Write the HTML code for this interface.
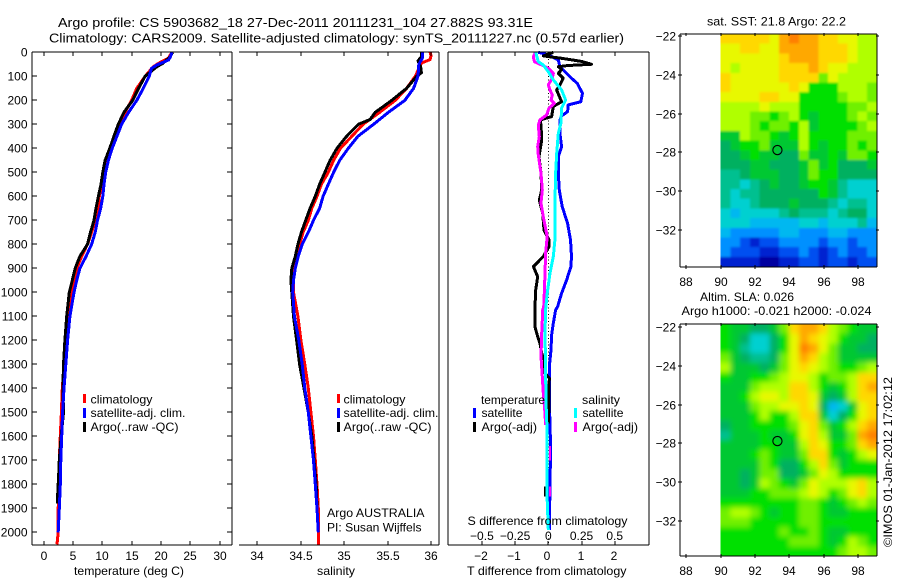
<!DOCTYPE html>
<html lang="en">
<head>
<meta charset="utf-8">
<title>Argo profile 5903682_18</title>
<style>
html,body{margin:0;padding:0;background:#fff;}
svg{display:block;font-family:"Liberation Sans",sans-serif;font-size:12px;fill:#000;}
text{stroke:none;}
</style>
</head>
<body>
<svg id="chart" xmlns="http://www.w3.org/2000/svg" width="900" height="580" viewBox="0 0 900 580">
  <defs>
    <filter id="blur-sst" filterUnits="userSpaceOnUse" x="660" y="0" width="240" height="300"><feGaussianBlur stdDeviation="1"/></filter>
    <filter id="blur-sla" filterUnits="userSpaceOnUse" x="660" y="300" width="240" height="280"><feGaussianBlur stdDeviation="2.6"/></filter>
    <clipPath id="clip-sst"><rect x="720.5" y="34" width="156.5" height="232.5"/></clipPath>
    <clipPath id="clip-sla"><rect x="720.5" y="324" width="156.5" height="232"/></clipPath>
  </defs>
  <rect x="0" y="0" width="900" height="580" fill="#fff"/>
  <g id="layer-maps"></g>
  <g id="layer-lines"></g>
  <g id="layer-axes"></g>

  <text x="58" y="27" textLength="475" lengthAdjust="spacingAndGlyphs" font-size="13">Argo profile: CS 5903682_18 27-Dec-2011 20111231_104 27.882S 93.31E</text>
  <text x="49" y="42.5" textLength="575" lengthAdjust="spacingAndGlyphs" font-size="13">Climatology: CARS2009. Satellite-adjusted climatology: synTS_20111227.nc (0.57d earlier)</text>

  <text x="74" y="575" textLength="110" lengthAdjust="spacingAndGlyphs">temperature (deg C)</text>
  <text x="317" y="575" textLength="38" lengthAdjust="spacingAndGlyphs">salinity</text>
  <text x="467" y="575" textLength="159.5" lengthAdjust="spacingAndGlyphs">T difference from climatology</text>
  <text x="467.5" y="525" textLength="160" lengthAdjust="spacingAndGlyphs">S difference from climatology</text>

  <g>
    <rect x="83" y="394" width="3" height="9" fill="#f00"/>
    <text x="90.5" y="403.5" textLength="62" lengthAdjust="spacingAndGlyphs">climatology</text>
    <rect x="83" y="408" width="3" height="10" fill="#00f"/>
    <text x="90.5" y="417" textLength="95" lengthAdjust="spacingAndGlyphs">satellite-adj. clim.</text>
    <rect x="83" y="422" width="3" height="10" fill="#000"/>
    <text x="90.5" y="431" textLength="88" lengthAdjust="spacingAndGlyphs">Argo(..raw -QC)</text>
  </g>
  <g>
    <rect x="337" y="394" width="3" height="9" fill="#f00"/>
    <text x="343.5" y="403.5" textLength="62" lengthAdjust="spacingAndGlyphs">climatology</text>
    <rect x="337" y="408" width="3" height="10" fill="#00f"/>
    <text x="343.5" y="417" textLength="95" lengthAdjust="spacingAndGlyphs">satellite-adj. clim.</text>
    <rect x="337" y="422" width="3" height="10" fill="#000"/>
    <text x="343.5" y="431" textLength="88" lengthAdjust="spacingAndGlyphs">Argo(..raw -QC)</text>
  </g>
  <text x="327" y="517" textLength="97.5" lengthAdjust="spacingAndGlyphs">Argo AUSTRALIA</text>
  <text x="327" y="531.5" textLength="94.5" lengthAdjust="spacingAndGlyphs">PI: Susan Wijffels</text>

  <g>
    <text x="481" y="404" textLength="64" lengthAdjust="spacingAndGlyphs">temperature</text>
    <rect x="473" y="408" width="3" height="10" fill="#00f"/>
    <text x="481.5" y="417" textLength="41" lengthAdjust="spacingAndGlyphs">satellite</text>
    <rect x="473" y="422" width="3" height="10" fill="#000"/>
    <text x="481.5" y="431" textLength="55.5" lengthAdjust="spacingAndGlyphs">Argo(-adj)</text>
    <text x="582" y="404" textLength="38" lengthAdjust="spacingAndGlyphs">salinity</text>
    <rect x="574" y="408" width="3" height="10" fill="#0ff"/>
    <text x="582.5" y="417" textLength="41" lengthAdjust="spacingAndGlyphs">satellite</text>
    <rect x="574" y="422" width="3" height="10" fill="#f0f"/>
    <text x="582.5" y="431" textLength="55.5" lengthAdjust="spacingAndGlyphs">Argo(-adj)</text>
  </g>

  <text x="707" y="25.5" textLength="139" lengthAdjust="spacingAndGlyphs">sat. SST: 21.8 Argo: 22.2</text>
  <text x="700" y="301" textLength="94" lengthAdjust="spacingAndGlyphs">Altim. SLA: 0.026</text>
  <text x="681.5" y="315" textLength="190" lengthAdjust="spacingAndGlyphs">Argo h1000: -0.021 h2000: -0.024</text>
  <text transform="translate(892,547) rotate(-90)" textLength="170" lengthAdjust="spacingAndGlyphs">©IMOS 01-Jan-2012 17:02:12</text>
</svg>

<script>
/* ---------- temperature panel data ---------- */
const climTempDepths = [0,25,40,60,100,150,200,250,300,350,400,450,500,550,600,650,700,750,800,850,900,950,1000,1100,1200,1300,1400,1500,1600,1700,1800,1900,2000,2050];
const climTemp = [21.85,21.3,20,18.7,17.3,15.9,15,13.9,13,12.2,11.3,10.65,10.3,9.9,9.5,9.35,8.8,8.2,7.5,6.5,5.65,5.2,4.8,4.2,3.8,3.5,3.2,3.05,2.87,2.7,2.65,2.5,2.5,2.3];
const argoTempDepths = [0,18,45,60,100,150,200,250,300,350,400,450,500,550,600,650,700,750,800,850,900,950,1000,1100,1200,1300,1400,1500,1600,1700,1750,1850,1880];
const argoTemp = [22,21.6,20.4,19.3,17.3,16.2,15.2,13.7,12.75,12,11.3,10.5,10.1,9.8,9.35,8.95,8.6,8,7.5,6.2,5.4,4.9,4.4,3.95,3.65,3.4,3.3,3.4,3,2.7,2.6,2.4,2.4];
const satTempDepths = [0,20,32,53,67,100,150,200,250,300,350,400,450,500,550,600,650,700,750,800,850,900,950,1000,1100,1200,1300,1400,1500,1600,1700,1800,1900,2000];
const satTemp = [21.85,21.6,21.3,19.3,18.4,18,17,15.9,14.5,13.3,12.5,11.7,11.05,10.6,10.3,10.1,9.75,9.2,8.8,8.2,7.25,6.2,5.65,5.2,4.5,4.1,3.8,3.5,3.25,3.1,2.95,2.87,2.7,2.5];

/* ---------- salinity panel data ---------- */
const climSalDepths = [0,15,30,45,100,150,200,250,300,350,400,450,500,550,600,650,700,750,800,850,900,1000,1100,1200,1300,1400,1500,1600,1700,1800,1900,2000,2050];
const climSal = [35.99,36,35.99,35.89,35.82,35.72,35.59,35.41,35.22,35.09,34.96,34.88,34.82,34.74,34.69,34.63,34.59,34.53,34.49,34.44,34.42,34.42,34.47,34.505,34.55,34.59,34.62,34.65,34.67,34.69,34.705,34.705,34.705];
const argoSalDepths = [0,20,35,60,85,100,150,200,250,280,300,350,400,450,500,550,600,650,700,750,800,850,900,950,1000,1100,1200,1300,1400,1500,1600,1700,1800,1900];
const argoSal = [35.89,35.89,35.85,35.88,35.89,35.835,35.72,35.55,35.36,35.3,35.165,35.03,34.92,34.84,34.78,34.72,34.67,34.61,34.56,34.51,34.47,34.44,34.4,34.39,34.4,34.42,34.455,34.49,34.54,34.59,34.63,34.655,34.68,34.69];
const satSalDepths = [0,25,50,100,150,200,250,300,350,400,450,500,550,600,650,700,750,800,850,900,950,1000,1100,1200,1300,1400,1500,1600,1700,1800,1900,2000];
const satSal = [35.9,35.9,35.86,35.85,35.8,35.7,35.51,35.34,35.16,35.05,34.95,34.88,34.82,34.76,34.72,34.65,34.59,34.52,34.475,34.44,34.42,34.41,34.43,34.48,34.52,34.55,34.59,34.62,34.65,34.67,34.69,34.705];

/* ---------- difference panel data ---------- */
const satDiffTDepths = [0,11,32,60,88,108,129,171,206,219,247,265,282,338,393,435,504,574,643,713,782,851,893,949,1004,1060,1074,1129,1178,1240,1310,1449,1643,1990];
const satDiffT = [-0.3,0,0.3,0.35,0.55,0.7,0.87,1.03,0.98,0.6,0.58,0.4,0.35,0.35,0.4,0.3,0.3,0.33,0.42,0.58,0.67,0.7,0.68,0.55,0.4,0.28,0.22,0.15,0.1,0.08,0.03,0.03,0.07,0.03];
const argoDiffTDepths = [0,15,25,38,50,55,60,72,88,108,136,157,206,226,268,282,303,365,435,504,574,615,671,740,782,810,851,893,935,990,1060,1143,1171,1213,1254,1282,1338,1358,1546];
const argoDiffT = [0.15,-0.15,0.4,1,1.3,0.6,0.3,0.4,0.3,0.45,0.35,0.25,0.4,0.15,0.1,-0.25,-0.22,-0.2,-0.28,-0.22,-0.2,-0.27,-0.17,-0.13,0.02,0.02,-0.15,-0.45,-0.32,-0.38,-0.4,-0.4,-0.35,-0.25,-0.2,-0.12,-0.1,0.03,0.01];
const argoDiffTTailDepths = [1810,1850];
const argoDiffTTail = [-0.1,-0.1];
const argoDiffSDepths = [0,18,39,53,67,88,108,136,157,178,199,213,233,261,282,303,351,393,428,504,574,629,699,768,838,921,1004,1060,1074,1115,1171,1268,1351,1421,1504,1553];
const argoDiffS = [-0.095,-0.113,-0.105,-0.05,0,0.038,0.03,0,0.013,0.03,0.02,0.045,0.005,-0.013,-0.063,-0.075,-0.068,-0.08,-0.075,-0.055,-0.045,-0.055,-0.033,-0.008,-0.02,-0.025,-0.03,-0.035,-0.043,-0.045,-0.05,-0.055,-0.045,-0.038,-0.025,-0.02];
const argoDiffSPatchDepths = [1640,1700];
const argoDiffSPatch = [0.012,0.012];
const argoDiffSDeepDepths = [1810,1850];
const argoDiffSDeep = [0.012,0.012];
const satDiffSDepths = [0,39,53,81,115,157,199,233,296,338,421,504,643,782,851,921,1004,1060,1074,1171,1310,1449,1588,1727,1865,1990];
const satDiffS = [-0.095,-0.075,-0.038,0,0.038,0.1,0.13,0.1,0.095,0.075,0.063,0.055,0.05,0.05,0.038,0.013,-0.008,-0.018,-0.02,-0.025,-0.02,-0.018,-0.008,-0.008,-0.008,0];

/* ---------- tick labels ---------- */
const depthTicks = [0,100,200,300,400,500,600,700,800,900,1000,1100,1200,1300,1400,1500,1600,1700,1800,1900,2000];
const tempTicks = [0,5,10,15,20,25,30];
const salTicks = [34,34.5,35,35.5,36];
const diffTTicks = [-2,-1,0,1,2];
const diffSTicks = [-0.5,-0.25,0,0.25,0.5];
const lonTicks = [88,90,92,94,96,98];
const latTicks = [-22,-24,-26,-28,-30,-32];

/* ---------- map values: colour level per cell, north to south ---------- */
const sstLevels = [
[13,13,13,13,13,12,14,15,14,14,13,13,12,12,11,11],
[12,12,13,13,12,12,14,14,14,14,13,13,13,12,11,11],
[12,12,12,12,12,12,13,14,14,14,13,13,13,12,11,11],
[12,11,12,12,12,12,13,13,13,14,13,12,12,11,11,11],
[13,12,12,12,12,12,13,13,13,13,10,12,11,11,11,11],
[13,12,12,12,12,12,12,13,12,9,9,9,11,11,11,10],
[12,12,12,12,13,13,12,12,9,9,9,9,10,11,11,10],
[11,11,11,11,12,11,11,11,9,9,9,9,9,10,10,11],
[11,11,11,10,10,9,10,11,9,8,9,9,9,10,11,10],
[11,11,11,10,9,10,10,9,11,8,9,9,9,9,10,11],
[8,8,11,10,10,9,8,9,11,9,9,9,9,10,10,10],
[7,8,9,9,10,8,8,8,11,9,8,9,9,10,9,10],
[7,7,8,9,8,8,7,7,10,8,8,9,8,10,10,9],
[7,7,7,8,8,7,7,7,8,10,8,9,7,7,7,8],
[6,6,7,8,8,8,7,7,8,10,9,9,7,7,7,7],
[6,6,5,6,7,8,7,7,8,9,9,8,6,5,5,5],
[6,5,6,6,7,7,7,7,7,7,9,8,6,5,5,5],
[6,5,5,6,7,7,7,8,7,7,7,6,5,6,6,5],
[5,4,5,5,5,5,6,7,6,6,6,5,6,7,7,5],
[5,5,5,4,4,4,4,4,5,5,4,5,5,5,6,4],
[4,3,3,3,3,3,4,4,3,3,3,4,4,3,3,3],
[3,3,2,1,2,2,3,3,3,3,2,3,3,2,3,3],
[3,2,2,2,1,1,2,2,3,2,1,2,3,2,2,3],
[1,1,1,1,0,0,1,1,2,2,1,2,2,1,2,2]
];
const slaLevels = [
[9,8,8,7,7,8,10,13,14,14,13,11,10,9,8,8],
[9,8,7,5,5,7,9,12,14,13,12,11,9,8,8,7],
[9,8,6,5,5,7,9,12,15,14,12,10,8,8,7,7],
[10,8,7,6,6,7,10,12,14,13,11,10,8,8,8,8],
[11,8,8,8,7,8,10,12,13,12,11,10,9,9,10,11],
[9,8,8,9,9,10,11,12,12,11,9,10,10,11,13,13],
[8,8,8,10,11,11,11,13,13,11,9,8,9,11,13,14],
[8,8,9,11,12,12,11,13,13,12,8,7,8,11,13,13],
[8,8,8,10,11,11,12,12,13,12,7,4,5,8,12,13],
[8,8,8,9,11,9,9,11,13,13,8,5,7,9,12,13],
[7,8,8,9,9,9,9,10,12,13,10,8,9,11,13,14],
[6,8,8,8,9,8,8,9,12,13,11,8,8,10,14,15],
[8,8,8,8,9,9,8,8,11,13,12,9,9,10,13,14],
[8,8,8,9,10,9,8,8,10,13,13,9,8,9,11,12],
[8,8,8,8,10,9,7,7,9,11,13,10,8,9,9,9],
[8,8,7,8,10,10,7,7,8,10,12,11,9,9,9,9],
[8,8,7,8,11,10,9,8,10,12,11,11,11,12,13,11],
[8,8,8,9,9,10,10,10,11,12,11,9,10,12,13,11],
[9,9,9,9,9,9,9,9,10,10,9,8,9,10,11,10],
[10,11,11,10,9,8,9,9,10,10,9,8,8,9,9,9],
[10,10,10,9,9,9,9,9,10,10,9,9,9,9,9,9],
[9,9,9,9,9,9,10,9,9,10,9,8,8,9,9,9],
[9,9,9,9,9,9,9,10,10,10,9,8,9,11,10,9],
[9,9,9,9,9,9,9,9,9,9,9,9,10,11,11,10]
];
const mapPalette = ["#0000a0","#0020d0","#0050f0","#0090ff","#00b8f0","#00d0d0","#00c090","#00b060","#00c830","#00e000","#70f000","#b0ff00","#e8f800","#ffd800","#ffa800","#ff8000"];
const floatLon = 93.31;
const floatLat = -27.88;

/* ---------- axis functions ---------- */
const SVGNS = "http://www.w3.org/2000/svg";
function yDepth(d){ return 52.3 + 0.24 * d; }
function xTemp(t){ return 43.5 + 5.87 * t; }
function xSal(s){ return 257 + 87 * (s - 34); }
function xDiffT(t){ return 548.3 + 33.2 * t; }
function xDiffS(s){ return 548.3 + 132.8 * s; }
function xLon(lon){ return 720.5 + 17.2 * (lon - 90); }
function ySstLat(lat){ return 36 + 19.4 * (-22 - lat); }
function ySlaLat(lat){ return 327 + 19.4 * (-22 - lat); }

const linesLayer = document.getElementById("layer-lines");
const axesLayer = document.getElementById("layer-axes");
const mapsLayer = document.getElementById("layer-maps");

function drawProfile(name, xs, depths, xFn, colour, width){
  const el = document.createElementNS(SVGNS, "polyline");
  
  
  const pts = xs.map(function(v, i){ return xFn(v).toFixed(1) + "," + yDepth(depths[i]).toFixed(1); });
  el.setAttribute("points", pts.join(" "));
  el.setAttribute("fill", "none");
  el.setAttribute("stroke", colour);
  el.setAttribute("stroke-width", width);
  el.setAttribute("shape-rendering", "crispEdges");
  el.setAttribute("stroke-linejoin", "round");
  linesLayer.appendChild(el);
}
function drawSeg(x1, y1, x2, y2){
  const el = document.createElementNS(SVGNS, "line");
  
  
  el.setAttribute("x1", x1);
  el.setAttribute("y1", y1);
  el.setAttribute("x2", x2);
  el.setAttribute("y2", y2);
  el.setAttribute("stroke", "#000");
  el.setAttribute("stroke-width", 1);
  el.setAttribute("shape-rendering", "crispEdges");
  axesLayer.appendChild(el);
}
function drawLabel(x, y, str, anchor){
  const el = document.createElementNS(SVGNS, "text");
  
  
  el.setAttribute("x", x);
  el.setAttribute("y", y);
  el.setAttribute("text-anchor", anchor);
  el.textContent = str;
  axesLayer.appendChild(el);
}

/* ---------- profile lines ---------- */
drawProfile("temperature-climatology", climTemp, climTempDepths, xTemp, "#f00", 3);
drawProfile("temperature-argo", argoTemp, argoTempDepths, xTemp, "#000", 3);
drawProfile("temperature-satellite", satTemp, satTempDepths, xTemp, "#00f", 3);
drawProfile("salinity-climatology", climSal, climSalDepths, xSal, "#f00", 3);
drawProfile("salinity-argo", argoSal, argoSalDepths, xSal, "#000", 3);
drawProfile("salinity-satellite", satSal, satSalDepths, xSal, "#00f", 3);

const zeroLine = document.createElementNS(SVGNS, "line");


zeroLine.setAttribute("x1", xDiffT(0));
zeroLine.setAttribute("x2", xDiffT(0));
zeroLine.setAttribute("y1", yDepth(0));
zeroLine.setAttribute("y2", yDepth(2050));
zeroLine.setAttribute("stroke", "#000");
zeroLine.setAttribute("stroke-dasharray", "1 2.4");
zeroLine.setAttribute("shape-rendering", "crispEdges");
linesLayer.appendChild(zeroLine);

drawProfile("t-difference-satellite", satDiffT, satDiffTDepths, xDiffT, "#00f", 3);
drawProfile("t-difference-argo", argoDiffT, argoDiffTDepths, xDiffT, "#000", 3);
drawProfile("t-difference-argo-deep", argoDiffTTail, argoDiffTTailDepths, xDiffT, "#000", 2);
drawProfile("s-difference-argo", argoDiffS, argoDiffSDepths, xDiffS, "#f0f", 3);
drawProfile("s-difference-argo-patch", argoDiffSPatch, argoDiffSPatchDepths, xDiffS, "#f0f", 2);
drawProfile("s-difference-argo-deep", argoDiffSDeep, argoDiffSDeepDepths, xDiffS, "#f0f", 2);
drawProfile("s-difference-satellite", satDiffS, satDiffSDepths, xDiffS, "#0ff", 3);

/* ---------- profile axes ---------- */
const yTop = 52;
const yBot = 545;
const p1L = 32;
const p1R = 232;
const p2L = 239;
const p2R = 439;
const p3L = 448;
const p3R = 649;

drawSeg(p1L, yTop, p1R, yTop);
drawSeg(p1L, yBot, p1R, yBot);
drawSeg(p1L, yTop, p1L, yBot);
drawSeg(p1R, yTop, p1R, yBot);
drawSeg(p2L, yTop, p2R, yTop);
drawSeg(p2L, yBot, p2R, yBot);
drawSeg(p2R, yTop, p2R, yBot);
drawSeg(p3L, yTop, p3R, yTop);
drawSeg(p3L, yBot, p3R, yBot);
drawSeg(p3L, yTop, p3L, yBot);
drawSeg(p3R, yTop, p3R, yBot);

depthTicks.forEach(function(d){
  const y = Math.round(yDepth(d));
  drawSeg(p1L, y, p1L + 5, y);
  drawSeg(p1R - 5, y, p1R, y);
  drawLabel(27.5, y + 4.5, String(d), "end");
});
tempTicks.forEach(function(t){
  const x = Math.round(xTemp(t));
  drawSeg(x, yTop, x, yTop + 4);
  drawSeg(x, yBot - 4, x, yBot);
  drawLabel(x, 560, String(t), "middle");
});
salTicks.forEach(function(s){
  const x = Math.round(xSal(s));
  drawSeg(x, yTop, x, yTop + 4);
  drawSeg(x, yBot - 4, x, yBot);
  drawLabel(x, 560, String(s), "middle");
});
diffTTicks.forEach(function(t){
  const x = Math.round(xDiffT(t));
  drawSeg(x, yTop, x, yTop + 4);
  drawSeg(x, yBot - 4, x, yBot);
  drawLabel(x - 1, 560, String(t).replace("-", "\u2212"), "middle");
});
diffSTicks.forEach(function(s){
  drawLabel(xDiffS(s), 540, String(s).replace("-", "\u2212"), "middle");
});

/* ---------- maps ---------- */
function drawMap(name, levels, yFn, topOffset, bottomOffset, filterId, clipId){
  const cols = levels[0].length;
  const rows = levels.length;
  const left = xLon(90);
  const right = 877;
  const top = yFn(-22) + topOffset;
  const bottom = yFn(-22) + bottomOffset;
  const w = (right - left) / cols;
  const h = (bottom - top) / rows;
  const pad = 8;
  const clipGroup = document.createElementNS(SVGNS, "g");
  
  
  clipGroup.setAttribute("clip-path", "url(#" + clipId + ")");
  const g = document.createElementNS(SVGNS, "g");
  
  
  g.setAttribute("filter", "url(#" + filterId + ")");
  levels.forEach(function(row, r){
    row.forEach(function(level, c){
      const cell = document.createElementNS(SVGNS, "rect");
      
      
      const padL = c === 0 ? pad : 0;
      const padR = c === cols - 1 ? pad : 0;
      const padT = r === 0 ? pad : 0;
      const padB = r === rows - 1 ? pad : 0;
      cell.setAttribute("x", (left + c * w - padL).toFixed(2));
      cell.setAttribute("y", (top + r * h - padT).toFixed(2));
      cell.setAttribute("width", (w + 0.4 + padL + padR).toFixed(2));
      cell.setAttribute("height", (h + 0.4 + padT + padB).toFixed(2));
      cell.setAttribute("fill", mapPalette[level]);
      cell.setAttribute("shape-rendering", "crispEdges");
      g.appendChild(cell);
    });
  });
  clipGroup.appendChild(g);
  mapsLayer.appendChild(clipGroup);

  const L = 680;
  const R = 877;
  const T = Math.round(top);
  const B = Math.round(bottom);
  drawSeg(L, T, R, T);
  drawSeg(L, B, R, B);
  drawSeg(L, T, L, B);
  drawSeg(R, T, R, B);
  lonTicks.forEach(function(lon){
    const x = Math.round(xLon(lon));
    drawSeg(x, T - 1, x, T + 2);
    drawSeg(x, B - 2, x, B + 2);
    drawLabel(x, B + 19, String(lon), "middle");
  });
  latTicks.forEach(function(lat){
    const y = Math.round(yFn(lat));
    drawSeg(L - 2, y, L + 2, y);
    drawSeg(R - 1, y, R + 2, y);
    drawLabel(676, y + 4.5, String(lat).replace("-", "\u2212"), "end");
  });

  const marker = document.createElementNS(SVGNS, "circle");
  
  
  marker.setAttribute("cx", xLon(floatLon));
  marker.setAttribute("cy", yFn(floatLat));
  marker.setAttribute("r", 4.6);
  marker.setAttribute("fill", "none");
  marker.setAttribute("stroke", "#000");
  marker.setAttribute("stroke-width", 1.1);
  axesLayer.appendChild(marker);
}
drawMap("sst-map", sstLevels, ySstLat, -2, 230.5, "blur-sst", "clip-sst");
drawMap("sla-map", slaLevels, ySlaLat, -3, 229, "blur-sla", "clip-sla");
</script>
</body>
</html>
